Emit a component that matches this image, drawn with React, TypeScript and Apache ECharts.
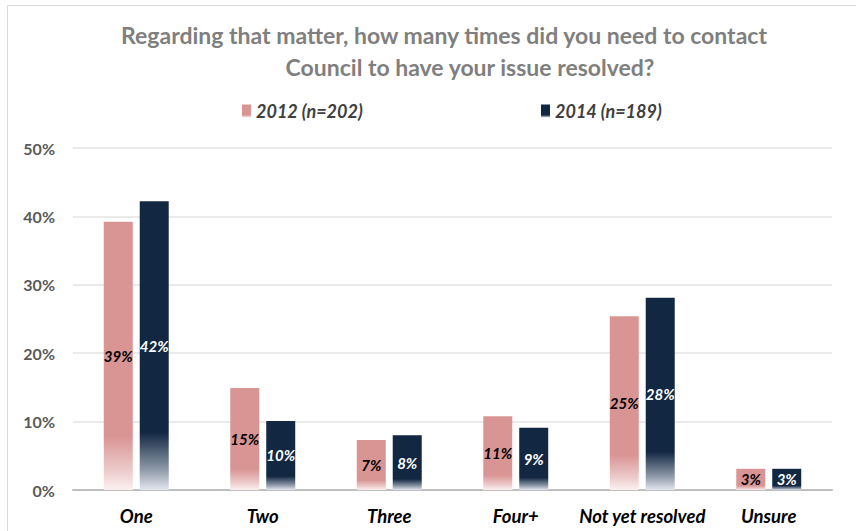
import React, { useEffect, useRef } from "react";
import * as echarts from "echarts";

const categories = ["One", "Two", "Three", "Four+", "Not yet resolved", "Unsure"];
const series2012 = [39.2, 14.9, 7.3, 10.8, 25.4, 3.1];
const series2014 = [42.2, 10.1, 8.0, 9.1, 28.1, 3.1];
const seriesNames = ["2012 (n=202)", "2014 (n=189)"];
const titleLines = [
  "Regarding that matter, how many times did you need to contact",
  "Council to have your issue resolved?",
];

const PINK = "#d99594";
const NAVY = "#122742";
const FONT = "Lato, 'Open Sans', sans-serif";

function fade(color: string, light: string) {
  return new echarts.graphic.LinearGradient(0, 0, 0, 1, [
    { offset: 0, color },
    { offset: 0.8, color },
    { offset: 0.93, color: echarts.color.lerp(0.6, [color, light]) as string },
    { offset: 1, color: light },
  ]);
}

export default function App() {
  const ref = useRef<HTMLDivElement>(null);
  useEffect(() => {
    if (!ref.current) return;
    const chart = echarts.init(ref.current, null, { renderer: "svg" });
    const labelCommon = {
      show: true,
      position: "inside" as const,
      fontFamily: FONT,
      fontStyle: "italic" as const,
      fontWeight: "bold" as const,
      fontSize: 15,
      formatter: (p: any) => Math.round(p.value) + "%",
    };
    const legendText = { fontFamily: FONT, fontStyle: "italic", fontWeight: "bold", fontSize: 18, color: "#404040" };
    const titleText = { fontFamily: FONT, fontWeight: "bold", fontSize: 23, color: "#7f7f7f" };
    chart.setOption({
      animation: false,
      backgroundColor: "#ffffff",
      title: [
        { text: titleLines[0], left: 439, top: 18, textAlign: "center", textStyle: titleText },
        { text: titleLines[1], left: 465, top: 50, textAlign: "center", textStyle: titleText },
      ],
      legend: [
        {
          data: [seriesNames[0]],
          left: 237,
          top: 97,
          icon: "rect",
          itemWidth: 9,
          itemHeight: 13,
          itemGap: 8,
          textStyle: legendText,
        },
        {
          data: [seriesNames[1]],
          left: 536,
          top: 97,
          icon: "rect",
          itemWidth: 9,
          itemHeight: 13,
          itemGap: 8,
          textStyle: legendText,
        },
      ],
      graphic: [
        {
          type: "rect",
          shape: { x: 7.5, y: 5.5, width: 900, height: 600 },
          style: { fill: "none", stroke: "#d9d9d9", lineWidth: 1 },
          silent: true,
          z: -1,
        },
      ],
      grid: { left: 73, right: 24, top: 148, bottom: 41, containLabel: false },
      xAxis: {
        type: "category",
        data: categories,
        axisTick: { show: false },
        axisLine: { lineStyle: { color: "#bfbfbf", width: 2 } },
        axisLabel: {
          interval: 0,
          margin: 16,
          fontFamily: FONT,
          fontStyle: "italic",
          fontWeight: "bold",
          fontSize: 18.5,
          color: "#000000",
        },
      },
      yAxis: {
        type: "value",
        min: 0,
        max: 50,
        interval: 10,
        axisLine: { show: false },
        axisTick: { show: false },
        splitLine: { lineStyle: { color: "#e3e3e3", width: 1.5 } },
        axisLabel: {
          formatter: "{value}%",
          margin: 18,
          fontFamily: FONT,
          fontWeight: "bold",
          fontSize: 16,
          color: "#595959",
        },
      },
      series: [
        {
          name: seriesNames[0],
          type: "bar",
          data: series2012,
          barWidth: 29,
          barGap: "24%",
          itemStyle: { color: fade(PINK, "#fbf1f1") },
          label: { ...labelCommon, color: "#000000" },
        },
        {
          name: seriesNames[1],
          type: "bar",
          data: series2014,
          barWidth: 29,
          barGap: "24%",
          itemStyle: { color: fade(NAVY, "#e3e7ee") },
          label: { ...labelCommon, color: "#ffffff" },
        },
      ],
    });
    return () => chart.dispose();
  }, []);
  return (
    <div
      ref={ref}
      style={{ position: "fixed", left: 0, top: 0, width: 856, height: 531 }}
    />
  );
}
